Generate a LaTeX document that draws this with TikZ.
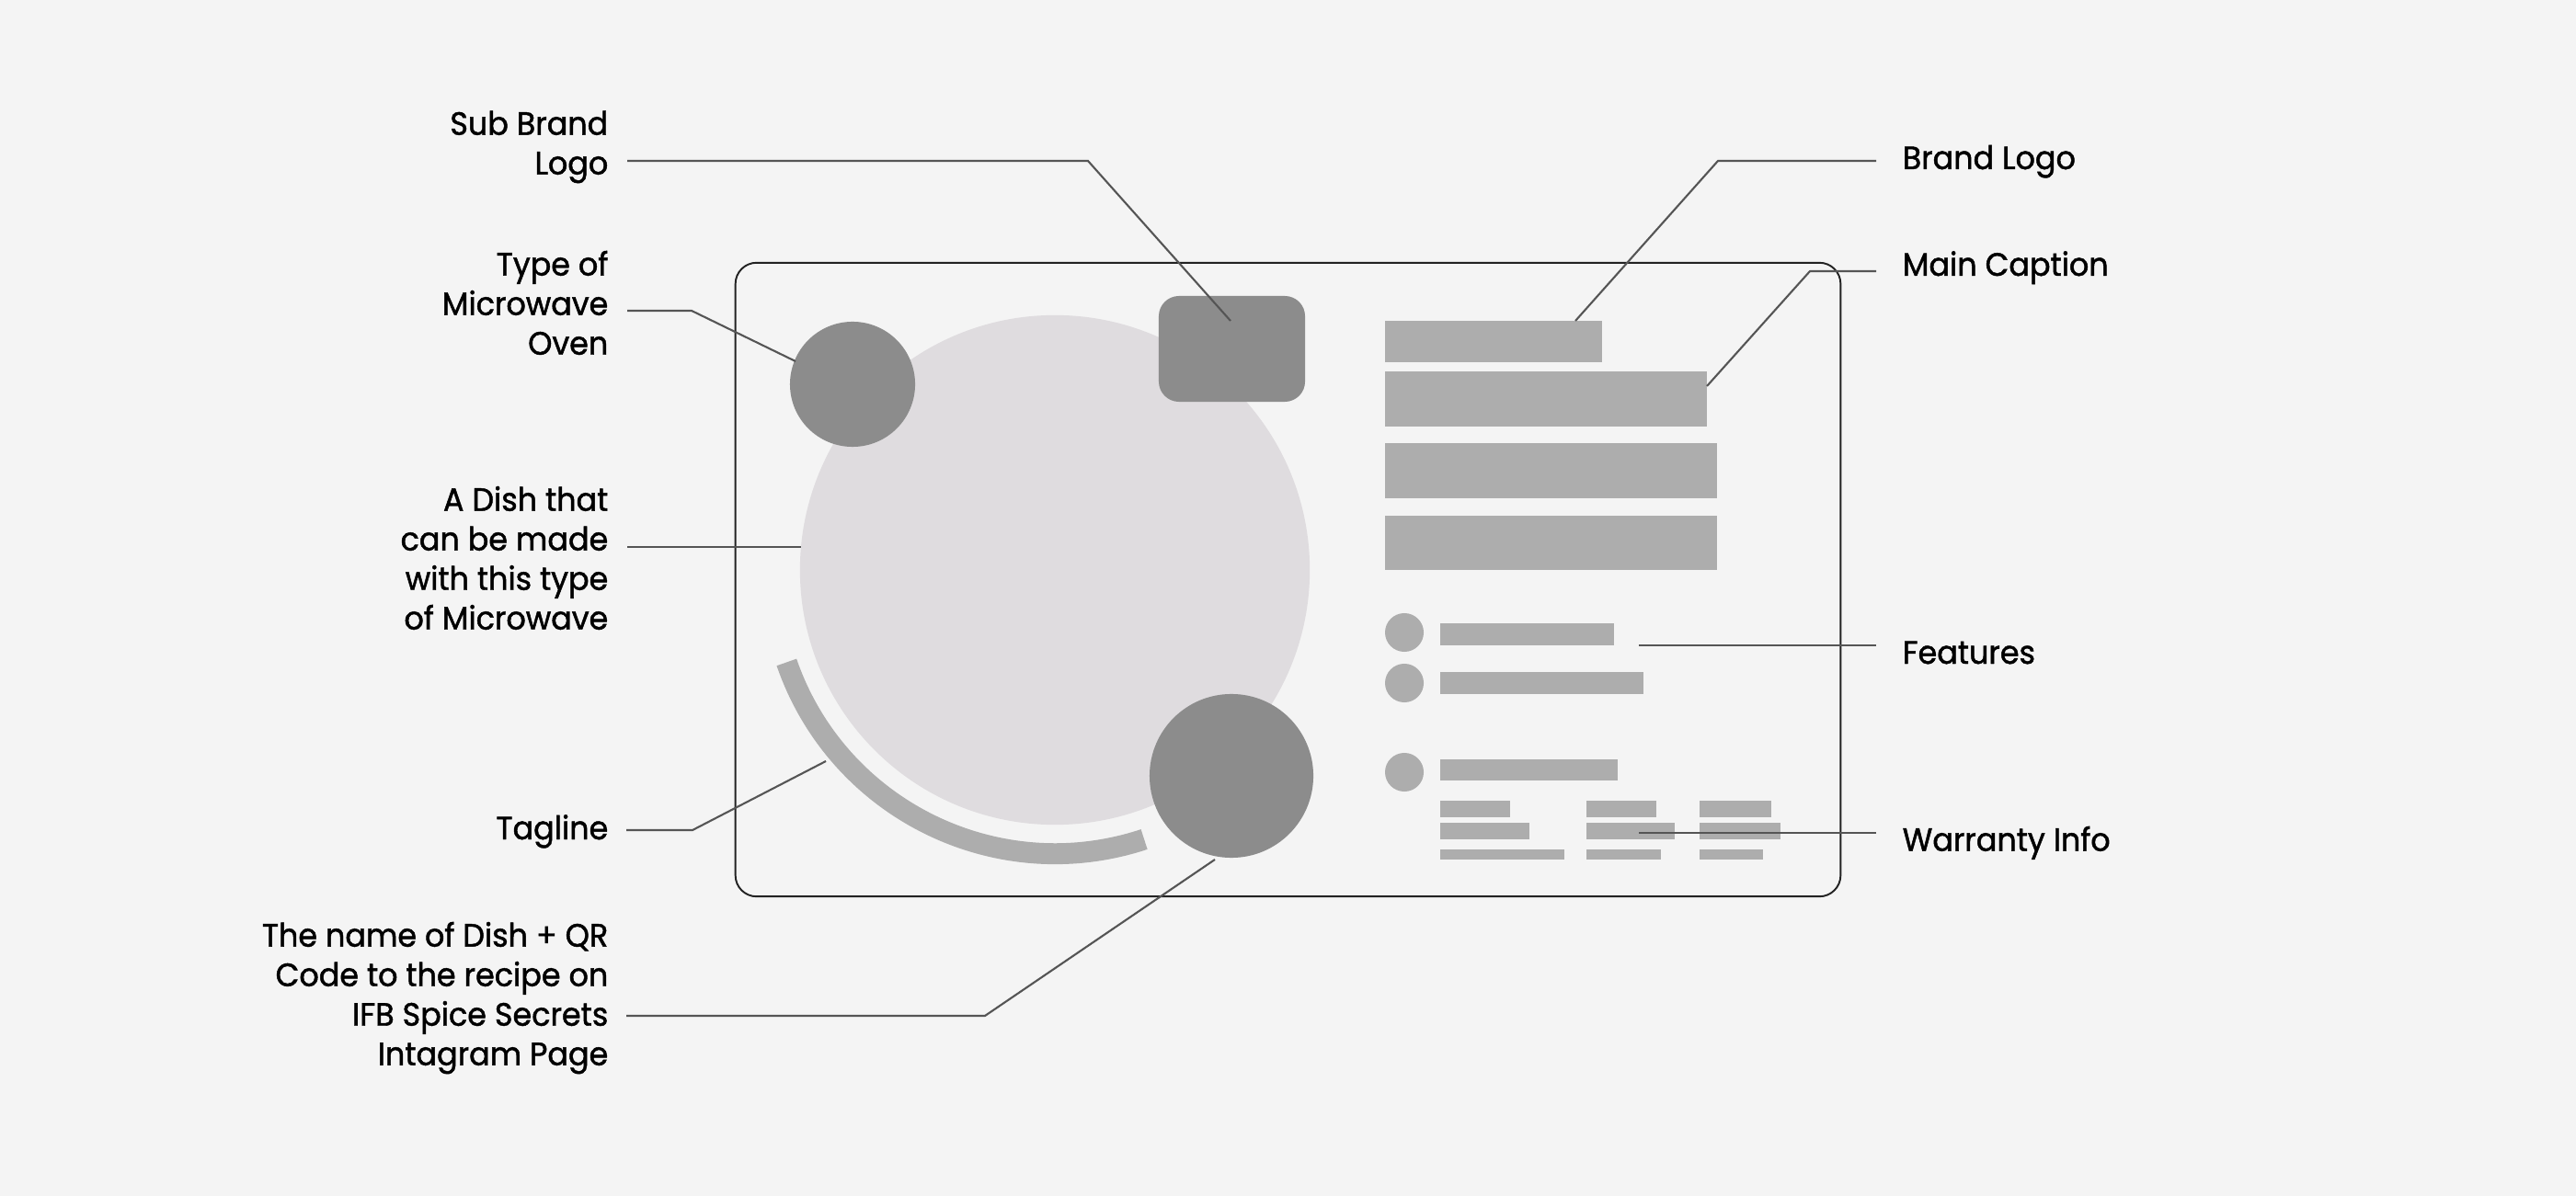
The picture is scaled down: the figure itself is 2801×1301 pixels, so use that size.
\documentclass[tikz,border=0pt]{standalone}
\usepackage{fontspec}
\setmainfont{Poppins}[FakeStretch=0.95, RawFeature={embolden=1.3}]
\definecolor{bgC}{HTML}{F4F4F4}
\definecolor{dishC}{HTML}{DFDCDF}
\definecolor{darkC}{HTML}{8C8C8C}
\definecolor{barC}{HTML}{ADADAD}
\definecolor{connC}{HTML}{555555}
\definecolor{frameC}{HTML}{222222}
\begin{document}
\begin{tikzpicture}[x=0.01cm,y=0.01cm,
  lbl/.style={inner sep=0pt, font=\fontsize{10pt}{12.23pt}\selectfont, text=black},
  lbll/.style={lbl, anchor=north east, align=right},
  lblr/.style={lbl, anchor=base west},
  conn/.style={draw=connC, line width=0.6pt},
  bar/.style 2 args={rectangle, fill=barC, draw=none, inner sep=0pt, minimum width=#1, minimum height=#2},
  dot/.style={circle, fill=darkC, draw=none, inner sep=0pt, minimum size=#1},
  fdot/.style={circle, fill=barC, draw=none, inner sep=0pt, minimum size=0.42cm},
]
\fill[bgC] (0,0) rectangle (2801,-1301);
\useasboundingbox (0,0) rectangle (2801,-1301);

% frame
\node[draw=frameC, line width=0.55pt, rounded corners=0.23cm, minimum width=12.01cm, minimum height=6.89cm, inner sep=0pt] (frame) at (1400.5,-630.5) {};

% dish and tagline arc
\node[circle, fill=dishC, draw=none, inner sep=0pt, minimum size=5.54cm] (dish) at (1147,-620) {};
\draw[barC, line width=6.5pt] (dish.center) ++(199:308.5) coordinate (tagA) arc[start angle=199, end angle=288.3, radius=3.085cm];

% dark shapes
\node[dot=1.36cm] (type) at (927,-418) {};
\node[dot=1.78cm] (qr) at (1339,-844) {};
\node[rectangle, fill=darkC, draw=none, inner sep=0pt, rounded corners=0.22cm, minimum width=1.59cm, minimum height=1.15cm] (sublogo) at (1339.5,-379.5) {};

% text bars
\node[bar={2.36cm}{0.45cm}] (b1) at (1624,-371.5) {};
\node[bar={3.50cm}{0.595cm}] (b2) at (1681,-433.75) {};
\node[bar={3.61cm}{0.595cm}] (b3) at (1686.5,-511.75) {};
\node[bar={3.61cm}{0.59cm}] (b4) at (1686.5,-590.5) {};

% features
\node[fdot] (fd1) at (1527,-688) {};
\node[fdot] (fd2) at (1527,-743) {};
\node[fdot] (fd3) at (1527,-840) {};
\node[bar={1.89cm}{0.24cm}] (f1) at (1660.5,-690) {};
\node[bar={2.21cm}{0.24cm}] (f2) at (1676.5,-743) {};
\node[bar={1.93cm}{0.23cm}] (f3) at (1662.5,-837.5) {};

% warranty
\node[bar={0.76cm}{0.18cm}] (w11) at (1604,-880) {};
\node[bar={0.97cm}{0.18cm}] (w12) at (1614.5,-904) {};
\node[bar={1.35cm}{0.11cm}] (w13) at (1633.5,-929.5) {};
\node[bar={0.76cm}{0.18cm}] (w21) at (1763,-880) {};
\node[bar={0.96cm}{0.18cm}] (w22) at (1773,-904) {};
\node[bar={0.81cm}{0.11cm}] (w23) at (1765.5,-929.5) {};
\node[bar={0.78cm}{0.18cm}] (w31) at (1887,-880) {};
\node[bar={0.88cm}{0.18cm}] (w32) at (1892,-904) {};
\node[bar={0.69cm}{0.11cm}] (w33) at (1882.5,-929.5) {};

% labels left
\node[lbll] (lSub) at (662,-110.85) {\rule{0pt}{10pt}Sub Brand\\Logo};
\node[lbll] (lType) at (662,-263.85) {\rule{0pt}{10pt}Type of\\Microwave\\Oven};
\node[lbll] (lDish) at (662,-519.85) {\rule{0pt}{10pt}A Dish that\\can be made\\with this type\\of Microwave};
\node[lbl, anchor=base east] (lTag) at (662,-913) {Tagline};
\node[lbll] (lQR) at (662,-993.85) {\rule{0pt}{10pt}The name of Dish + QR\\Code to the recipe on\\IFB Spice Secrets\\Intagram Page};

% labels right
\node[lblr] (lBrand) at (2068,-184) {Brand Logo};
\node[lblr] (lCap) at (2068,-300) {Main Caption};
\node[lblr] (lFeat) at (2068,-722) {Features};
\node[lblr] (lWar) at (2068,-925.7) {Warranty Info};

% connector points
\coordinate (subS) at (682,-175);  \coordinate (subK) at (1183,-175); \coordinate (subE) at (1338,-349);
\coordinate (typS) at (682,-338);  \coordinate (typK) at (752,-338);  \coordinate (typE) at (865,-393);
\coordinate (disS) at (682,-595);  \coordinate (disE) at (871,-595);
\coordinate (tagS) at (681,-903);  \coordinate (tagK) at (753,-903);  \coordinate (tagE) at (898,-828);
\coordinate (qrS) at (681,-1105);  \coordinate (qrK) at (1071,-1105); \coordinate (qrE) at (1321,-935);
\coordinate (brS) at (2040,-175);  \coordinate (brK) at (1868,-175); \coordinate (brE) at (1713,-349);
\coordinate (caS) at (2040,-295);  \coordinate (caK) at (1968,-295); \coordinate (caE) at (1856,-420);
\coordinate (feS) at (2040,-702);  \coordinate (feE) at (1782,-702);
\coordinate (waS) at (2040,-906);  \coordinate (waE) at (1782,-906);

\draw[conn] (subS) -- (subK) -- (subE);
\draw[conn] (typS) -- (typK) -- (typE);
\draw[conn] (disS) -- (disE);
\draw[conn] (tagS) -- (tagK) -- (tagE);
\draw[conn] (qrS) -- (qrK) -- (qrE);
\draw[conn] (brS) -- (brK) -- (brE);
\draw[conn] (caS) -- (caK) -- (caE);
\draw[conn] (feS) -- (feE);
\draw[conn] (waS) -- (waE);
\end{tikzpicture}
\end{document}
